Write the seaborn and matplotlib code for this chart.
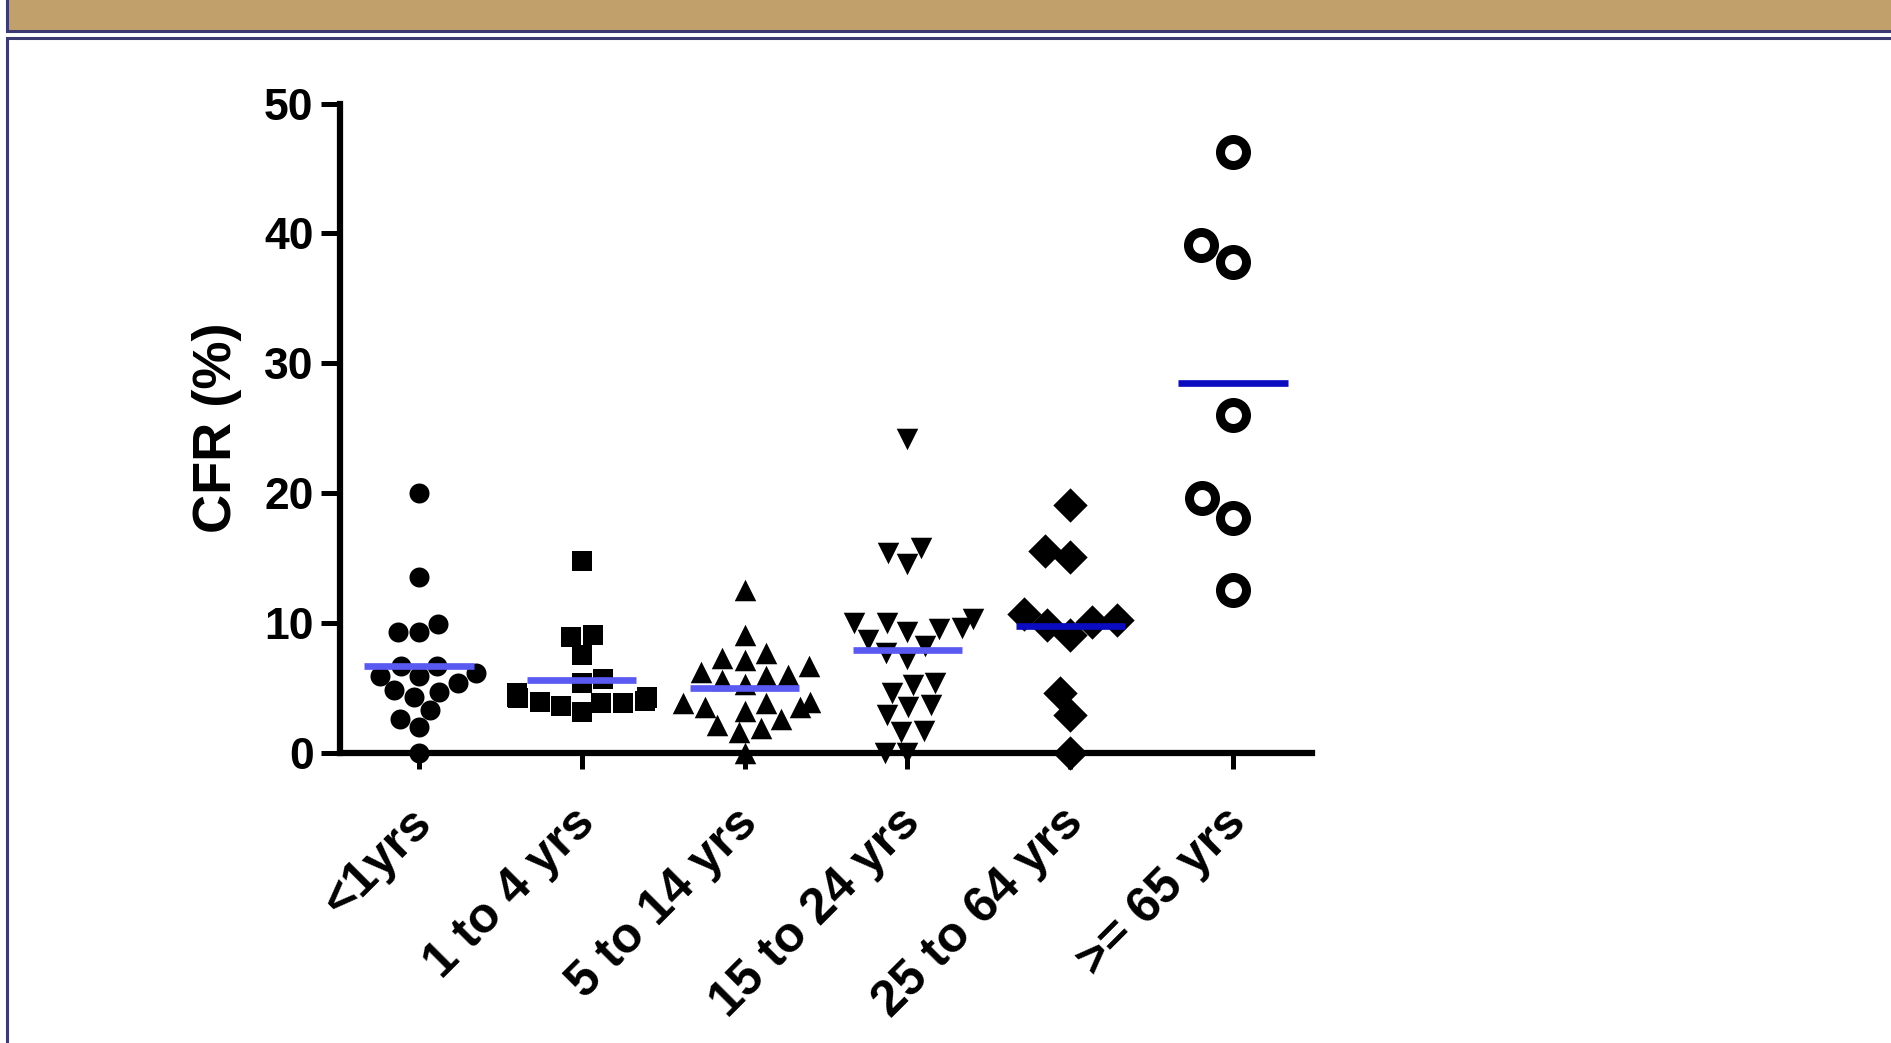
import numpy as np
import pandas as pd
import matplotlib
matplotlib.use("Agg")
import matplotlib.pyplot as plt
import matplotlib.transforms as mtransforms
from matplotlib.patches import Rectangle
import seaborn as sns

# Case fatality ratio (%) by age group
categories = ["<1yrs", "1 to 4 yrs", "5 to 14 yrs", "15 to 24 yrs", "25 to 64 yrs", ">= 65 yrs"]

cfr_under1 = [20.0, 13.5, 9.3, 9.3, 9.9, 6.7, 6.7, 5.9, 5.4, 5.9, 6.1, 4.7, 4.8, 4.3, 3.3, 2.6, 2.0, 0.0]
cfr_1to4 = [14.8, 9.1, 8.9, 7.5, 5.7, 5.4, 4.6, 4.3, 4.3, 4.2, 4.2, 4.0, 3.9, 3.8, 3.8, 3.6, 3.1]
cfr_5to14 = [12.5, 9.1, 7.7, 7.3, 7.1, 6.7, 5.9, 6.2, 6.0, 5.6, 5.3, 3.5, 3.8, 3.8, 3.2, 3.9,
             3.5, 2.6, 1.9, 2.1, 1.6, 0.0]
cfr_15to24 = [24.2, 15.4, 15.8, 14.5, 10.3, 10.0, 10.0, 9.5, 9.3, 9.6, 8.7, 8.2, 7.7, 7.2,
              4.6, 5.2, 5.4, 3.5, 3.7, 2.9, 1.6, 1.7, 0.0, 0.0]
cfr_25to64 = [19.1, 15.5, 15.1, 10.7, 10.1, 10.2, 9.1, 9.8, 4.6, 2.9, 0.0]
cfr_65plus = [46.3, 39.1, 37.8, 26.0, 19.6, 18.1, 12.5]

series = [cfr_under1, cfr_1to4, cfr_5to14, cfr_15to24, cfr_25to64, cfr_65plus]
df = pd.DataFrame({
    "group": [c for c, vals in zip(categories, series) for _ in vals],
    "cfr": [v for vals in series for v in vals],
})

# marker styling per group
markers = ["o", "s", "^", "v", "D", "o"]
msizes = [14.4, 15.0, 15.5, 15.5, 17.5, 18.7]
faces = ["black"] * 5 + ["white"]
edge_lw = [0, 0, 0, 0, 0, 6.5]
mean_colors = ["#5a5af2"] * 4 + ["#0b0bbf"] * 2

sns.set_style("ticks")
plt.rcParams["font.family"] = ["Liberation Sans", "DejaVu Sans"]
plt.rcParams["font.weight"] = "bold"
for key in ["text.color", "axes.labelcolor", "xtick.color", "ytick.color",
            "xtick.labelcolor", "ytick.labelcolor"]:
    plt.rcParams[key] = "black"

W, H = 1891, 1043
fig = plt.figure(figsize=(W / 100, H / 100), dpi=100)


def fx(px):
    return px / W


def fy(py):
    return 1 - py / H


# page decoration: tan header band and framed panel
navy = "#3b3b72"
fig.add_artist(Rectangle((fx(7), fy(31)), fx(1900), 40 / H, transform=fig.transFigure,
                         facecolor="#c1a06b", edgecolor=navy, linewidth=2.2, zorder=0))
fig.add_artist(Rectangle((fx(7), fy(1100)), fx(1900), (1100 - 37.5) / H, transform=fig.transFigure,
                         facecolor="white", edgecolor=navy, linewidth=2.2, zorder=0))

ax = fig.add_axes([fx(340), fy(752.6), fx(1312 - 340), (752.6 - 103.7) / H])
ax.patch.set_alpha(0)

for i, cat in enumerate(categories):
    sub = df[df["group"] == cat]
    sns.swarmplot(data=sub, x="group", y="cfr", order=categories, ax=ax,
                  marker=markers[i], size=msizes[i], color=faces[i],
                  edgecolor="black", linewidth=edge_lw[i],
                  clip_on=False, zorder=5, warn_thresh=1.0)

# group means as horizontal bars
means = df.groupby("group", sort=False)["cfr"].mean().reindex(categories)
for i, cat in enumerate(categories):
    ax.hlines(means[cat], i - 0.335, i + 0.335, color=mean_colors[i],
              linewidth=4.8, zorder=6, clip_on=False)

ax.set_xlim(-0.485, 5.485)
ax.set_ylim(0, 50)
ax.set_yticks([0, 10, 20, 30, 40, 50])

for side in ["top", "right"]:
    ax.spines[side].set_visible(False)
for side in ["left", "bottom"]:
    ax.spines[side].set_linewidth(4.5)
    ax.spines[side].set_color("black")
    ax.spines[side].set_zorder(4)

ax.tick_params(axis="y", length=14, width=3.6, pad=5, labelsize=32, color="black",
               labelcolor="black")
ax.tick_params(axis="x", length=11.5, width=3.6, pad=34, labelsize=36, color="black",
               labelcolor="black")
for lab in ax.get_yticklabels():
    lab.set_fontweight("bold")
ax.set_xticks(range(len(categories)))
ax.set_xticklabels(categories, rotation=45, ha="right", va="center",
                   rotation_mode="anchor", fontweight="bold")
shift = mtransforms.ScaledTranslation(4 / 72, 0, fig.dpi_scale_trans)
for lab in ax.get_xticklabels():
    lab.set_transform(lab.get_transform() + shift)

ax.set_xlabel("")
ax.set_ylabel("CFR (%)", fontsize=39, fontweight="bold", labelpad=16, color="black")

fig.savefig("out.png", dpi=100)
